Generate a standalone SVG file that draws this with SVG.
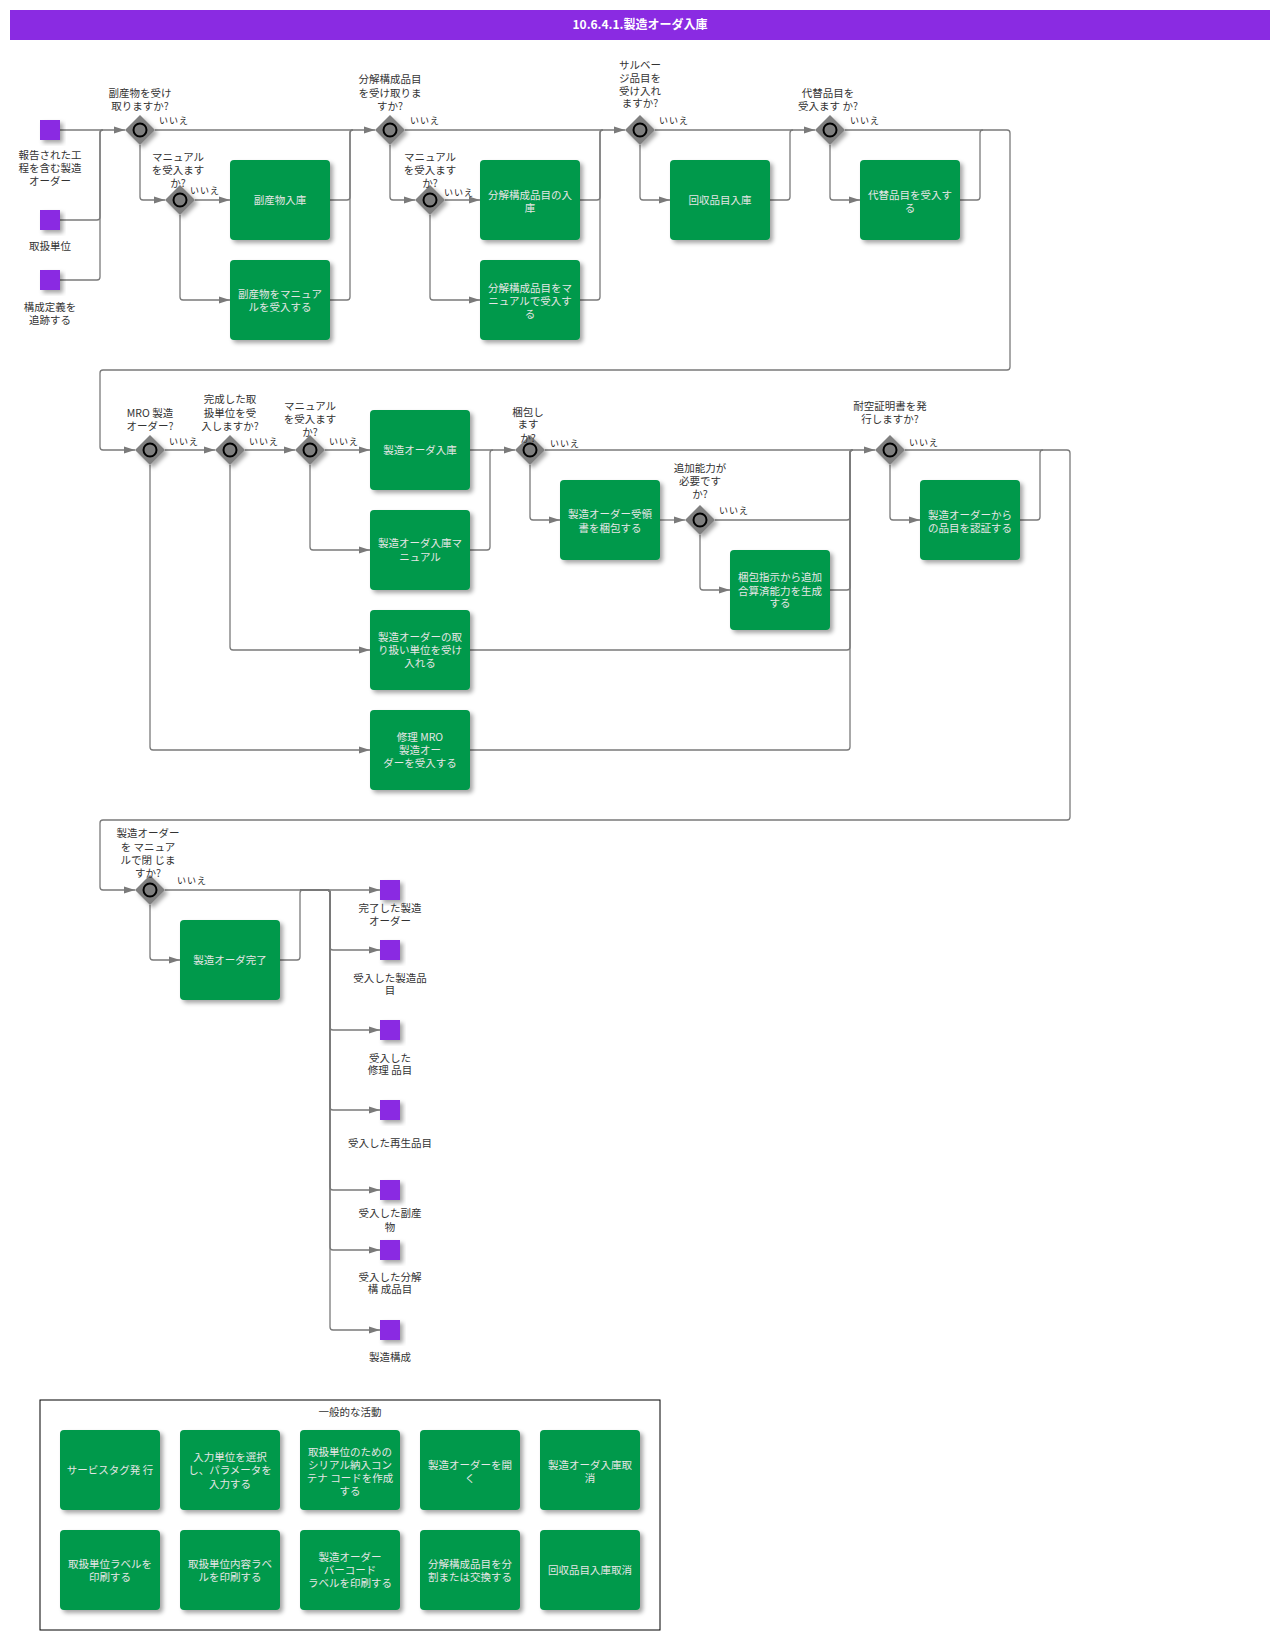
<svg xmlns="http://www.w3.org/2000/svg" width="1280" height="1640" viewBox="0 0 1280 1640">
<style>
text{font-family:"Noto Sans CJK JP","Noto Sans",sans-serif;text-anchor:middle}
.lbl{font-size:10.5px;fill:#333}
.tt{font-size:10.5px;fill:#e6e6e6}
.no{font-size:9px;fill:#222;letter-spacing:1px}
.task{fill:#00994c;filter:url(#sh)}
.gw{fill:#7f7f7f;filter:url(#sh)}
.gc{fill:#7f7f7f;stroke:#000;stroke-width:2}
.ev{fill:#8a2be2;filter:url(#sh)}
.c{fill:none;stroke:#7a7a7a;stroke-width:1.3}
.a{marker-end:url(#ar)}
.title{font-size:12px;font-weight:bold;fill:#fff}
</style>
<defs>
<filter id="sh" x="-20%" y="-20%" width="150%" height="150%"><feDropShadow dx="3" dy="3" stdDeviation="2" flood-color="#000" flood-opacity="0.35"/></filter>
<marker id="ar" markerUnits="userSpaceOnUse" markerWidth="12" markerHeight="8" refX="11" refY="4" orient="auto"><path d="M0,0.5 L11,4 L0,7.5 z" fill="#7a7a7a"/></marker>
</defs>
<rect width="1280" height="1640" fill="#fff"/>
<g id="title"><rect x="10" y="10" width="1260" height="30" fill="#8a2be2"/><text class="title" x="640" y="29">10.6.4.1.製造オーダ入庫</text></g>

<g id="connectors">
<path class="c a" d="M60,130 H125"/>
<path class="c" d="M60,220 H97 Q100,220 100,217 V133 Q100,130 103,130"/>
<path class="c" d="M60,280 H97 Q100,280 100,277 V133 Q100,130 103,130"/>
<path class="c a" d="M155,130 H375"/>
<path class="c a" d="M140,145 V197 Q140,200 143,200 H165"/>
<path class="c a" d="M195,200 H230"/>
<path class="c a" d="M180,215 V297 Q180,300 183,300 H230"/>
<path class="c" d="M330,200 H347 Q350,200 350,197 V133 Q350,130 353,130"/>
<path class="c" d="M330,300 H347 Q350,300 350,297 V133 Q350,130 353,130"/>
<path class="c a" d="M405,130 H625"/>
<path class="c a" d="M390,145 V197 Q390,200 393,200 H415"/>
<path class="c a" d="M445,200 H480"/>
<path class="c a" d="M430,215 V297 Q430,300 433,300 H480"/>
<path class="c" d="M580,200 H597 Q600,200 600,197 V133 Q600,130 603,130"/>
<path class="c" d="M580,300 H597 Q600,300 600,297 V133 Q600,130 603,130"/>
<path class="c a" d="M655,130 H815"/>
<path class="c a" d="M640,145 V197 Q640,200 643,200 H670"/>
<path class="c" d="M770,200 H787 Q790,200 790,197 V133 Q790,130 793,130"/>
<path class="c a" d="M845,130 H1007 Q1010,130 1010,133 V367 Q1010,370 1007,370 H103 Q100,370 100,373 V447 Q100,450 103,450 H135"/>
<path class="c a" d="M830,145 V197 Q830,200 833,200 H860"/>
<path class="c" d="M960,200 H977 Q980,200 980,197 V133 Q980,130 983,130"/>

<path class="c a" d="M165,450 H215"/>
<path class="c a" d="M150,465 V747 Q150,750 153,750 H370"/>
<path class="c a" d="M245,450 H295"/>
<path class="c a" d="M230,465 V647 Q230,650 233,650 H370"/>
<path class="c a" d="M325,450 H370"/>
<path class="c a" d="M310,465 V547 Q310,550 313,550 H370"/>
<path class="c a" d="M470,450 H515"/>
<path class="c" d="M470,550 H487 Q490,550 490,547 V453 Q490,450 493,450"/>
<path class="c a" d="M545,450 H875"/>
<path class="c a" d="M530,465 V517 Q530,520 533,520 H560"/>
<path class="c a" d="M660,520 H685"/>
<path class="c" d="M715,520 H847 Q850,520 850,517 V453 Q850,450 853,450"/>
<path class="c a" d="M700,535 V587 Q700,590 703,590 H730"/>
<path class="c" d="M830,590 H847 Q850,590 850,587 V453 Q850,450 853,450"/>
<path class="c" d="M470,650 H847 Q850,650 850,647 V453 Q850,450 853,450"/>
<path class="c" d="M470,750 H847 Q850,750 850,747 V453 Q850,450 853,450"/>
<path class="c a" d="M905,450 H1067 Q1070,450 1070,453 V817 Q1070,820 1067,820 H103 Q100,820 100,823 V887 Q100,890 103,890 H135"/>
<path class="c a" d="M890,465 V517 Q890,520 893,520 H920"/>
<path class="c" d="M1020,520 H1037 Q1040,520 1040,517 V453 Q1040,450 1043,450"/>

<path class="c a" d="M165,890 H380"/>
<path class="c a" d="M150,905 V957 Q150,960 153,960 H180"/>
<path class="c" d="M280,960 H297 Q300,960 300,957 V893 Q300,890 303,890"/>
<path class="c a" d="M300,890 H327 Q330,890 330,893 V947 Q330,950 333,950 H380"/>
<path class="c a" d="M300,890 H327 Q330,890 330,893 V1027 Q330,1030 333,1030 H380"/>
<path class="c a" d="M300,890 H327 Q330,890 330,893 V1107 Q330,1110 333,1110 H380"/>
<path class="c a" d="M300,890 H327 Q330,890 330,893 V1187 Q330,1190 333,1190 H380"/>
<path class="c a" d="M300,890 H327 Q330,890 330,893 V1247 Q330,1250 333,1250 H380"/>
<path class="c a" d="M300,890 H327 Q330,890 330,893 V1327 Q330,1330 333,1330 H380"/>
</g>

<g id="s1"><rect class="ev" x="40" y="120" width="20" height="20"/><text class="lbl"><tspan x="50" y="159">報告された工</tspan><tspan x="50" y="172">程を含む製造</tspan><tspan x="50" y="185">オーダー</tspan></text></g>
<g id="s2"><rect class="ev" x="40" y="210" width="20" height="20"/><text class="lbl" x="50" y="250">取扱単位</text></g>
<g id="s3"><rect class="ev" x="40" y="270" width="20" height="20"/><text class="lbl"><tspan x="50" y="311">構成定義を</tspan><tspan x="50" y="324">追跡する</tspan></text></g>

<g id="d1"><polygon class="gw" points="140,115 155,130 140,145 125,130"/><circle class="gc" cx="140" cy="130" r="6.5"/><text class="lbl"><tspan x="140" y="97">副産物を受け</tspan><tspan x="140" y="110">取りますか?</tspan></text><text class="no" x="174" y="124">いいえ</text></g>
<g id="d2"><polygon class="gw" points="180,185 195,200 180,215 165,200"/><circle class="gc" cx="180" cy="200" r="6.5"/><text class="lbl"><tspan x="178" y="161">マニュアル</tspan><tspan x="178" y="174">を受入ます</tspan><tspan x="178" y="187">か?</tspan></text><text class="no" x="205" y="194">いいえ</text></g>
<g id="t1"><rect class="task" x="230" y="160" width="100" height="80" rx="4"/><text class="tt" x="280" y="204">副産物入庫</text></g>
<g id="t2"><rect class="task" x="230" y="260" width="100" height="80" rx="4"/><text class="tt"><tspan x="280" y="298">副産物をマニュア</tspan><tspan x="280" y="311">ルを受入する</tspan></text></g>

<g id="d3"><polygon class="gw" points="390,115 405,130 390,145 375,130"/><circle class="gc" cx="390" cy="130" r="6.5"/><text class="lbl"><tspan x="390" y="83">分解構成品目</tspan><tspan x="390" y="97">を受け取りま</tspan><tspan x="390" y="110">すか?</tspan></text><text class="no" x="425" y="124">いいえ</text></g>
<g id="d4"><polygon class="gw" points="430,185 445,200 430,215 415,200"/><circle class="gc" cx="430" cy="200" r="6.5"/><text class="lbl"><tspan x="430" y="161">マニュアル</tspan><tspan x="430" y="174">を受入ます</tspan><tspan x="430" y="187">か?</tspan></text><text class="no" x="459" y="196">いいえ</text></g>
<g id="t3"><rect class="task" x="480" y="160" width="100" height="80" rx="4"/><text class="tt"><tspan x="530" y="199">分解構成品目の入</tspan><tspan x="530" y="212">庫</tspan></text></g>
<g id="t4"><rect class="task" x="480" y="260" width="100" height="80" rx="4"/><text class="tt"><tspan x="530" y="292">分解構成品目をマ</tspan><tspan x="530" y="305">ニュアルで受入す</tspan><tspan x="530" y="318">る</tspan></text></g>

<g id="d5"><polygon class="gw" points="640,115 655,130 640,145 625,130"/><circle class="gc" cx="640" cy="130" r="6.5"/><text class="lbl"><tspan x="640" y="69">サルベー</tspan><tspan x="640" y="82">ジ品目を</tspan><tspan x="640" y="95">受け入れ</tspan><tspan x="640" y="107">ますか?</tspan></text><text class="no" x="674" y="124">いいえ</text></g>
<g id="t5"><rect class="task" x="670" y="160" width="100" height="80" rx="4"/><text class="tt" x="720" y="204">回収品目入庫</text></g>

<g id="d6"><polygon class="gw" points="830,115 845,130 830,145 815,130"/><circle class="gc" cx="830" cy="130" r="6.5"/><text class="lbl"><tspan x="828" y="97">代替品目を</tspan><tspan x="828" y="110">受入ます か?</tspan></text><text class="no" x="865" y="124">いいえ</text></g>
<g id="t6"><rect class="task" x="860" y="160" width="100" height="80" rx="4"/><text class="tt"><tspan x="910" y="199">代替品目を受入す</tspan><tspan x="910" y="212">る</tspan></text></g>

<g id="d7"><polygon class="gw" points="150,435 165,450 150,465 135,450"/><circle class="gc" cx="150" cy="450" r="6.5"/><text class="lbl"><tspan x="150" y="417">MRO 製造</tspan><tspan x="150" y="430">オーダー?</tspan></text><text class="no" x="184" y="445">いいえ</text></g>
<g id="d8"><polygon class="gw" points="230,435 245,450 230,465 215,450"/><circle class="gc" cx="230" cy="450" r="6.5"/><text class="lbl"><tspan x="230" y="403">完成した取</tspan><tspan x="230" y="417">扱単位を受</tspan><tspan x="230" y="430">入しますか?</tspan></text><text class="no" x="264" y="445">いいえ</text></g>
<g id="d9"><polygon class="gw" points="310,435 325,450 310,465 295,450"/><circle class="gc" cx="310" cy="450" r="6.5"/><text class="lbl"><tspan x="310" y="410">マニュアル</tspan><tspan x="310" y="423">を受入ます</tspan><tspan x="310" y="436">か?</tspan></text><text class="no" x="344" y="445">いいえ</text></g>
<g id="t7"><rect class="task" x="370" y="410" width="100" height="80" rx="4"/><text class="tt" x="420" y="454">製造オーダ入庫</text></g>
<g id="t8"><rect class="task" x="370" y="510" width="100" height="80" rx="4"/><text class="tt"><tspan x="420" y="547">製造オーダ入庫マ</tspan><tspan x="420" y="561">ニュアル</tspan></text></g>
<g id="t9"><rect class="task" x="370" y="610" width="100" height="80" rx="4"/><text class="tt"><tspan x="420" y="641">製造オーダーの取</tspan><tspan x="420" y="654">り扱い単位を受け</tspan><tspan x="420" y="667">入れる</tspan></text></g>
<g id="t10"><rect class="task" x="370" y="710" width="100" height="80" rx="4"/><text class="tt"><tspan x="420" y="741">修理 MRO</tspan><tspan x="420" y="754">製造オー</tspan><tspan x="420" y="767">ダーを受入する</tspan></text></g>

<g id="d10"><polygon class="gw" points="530,435 545,450 530,465 515,450"/><circle class="gc" cx="530" cy="450" r="6.5"/><text class="lbl"><tspan x="528" y="416">梱包し</tspan><tspan x="528" y="428">ます</tspan><tspan x="528" y="442">か?</tspan></text><text class="no" x="565" y="447">いいえ</text></g>
<g id="t11"><rect class="task" x="560" y="480" width="100" height="80" rx="4"/><text class="tt"><tspan x="610" y="518">製造オーダー受領</tspan><tspan x="610" y="532">書を梱包する</tspan></text></g>
<g id="d11"><polygon class="gw" points="700,505 715,520 700,535 685,520"/><circle class="gc" cx="700" cy="520" r="6.5"/><text class="lbl"><tspan x="700" y="472">追加能力が</tspan><tspan x="700" y="485">必要です</tspan><tspan x="700" y="498">か?</tspan></text><text class="no" x="734" y="514">いいえ</text></g>
<g id="t12"><rect class="task" x="730" y="550" width="100" height="80" rx="4"/><text class="tt"><tspan x="780" y="581">梱包指示から追加</tspan><tspan x="780" y="595">合算済能力を生成</tspan><tspan x="780" y="607">する</tspan></text></g>
<g id="d12"><polygon class="gw" points="890,435 905,450 890,465 875,450"/><circle class="gc" cx="890" cy="450" r="6.5"/><text class="lbl"><tspan x="890" y="410">耐空証明書を発</tspan><tspan x="890" y="423">行しますか?</tspan></text><text class="no" x="924" y="446">いいえ</text></g>
<g id="t13"><rect class="task" x="920" y="480" width="100" height="80" rx="4"/><text class="tt"><tspan x="970" y="519">製造オーダーから</tspan><tspan x="970" y="532">の品目を認証する</tspan></text></g>

<g id="d13"><polygon class="gw" points="150,875 165,890 150,905 135,890"/><circle class="gc" cx="150" cy="890" r="6.5"/><text class="lbl"><tspan x="148" y="837">製造オーダー</tspan><tspan x="148" y="851">を マニュア</tspan><tspan x="148" y="864">ルで閉 じま</tspan><tspan x="148" y="877">すか?</tspan></text><text class="no" x="192" y="884">いいえ</text></g>
<g id="t14"><rect class="task" x="180" y="920" width="100" height="80" rx="4"/><text class="tt" x="230" y="964">製造オーダ完了</text></g>

<g id="e1"><rect class="ev" x="380" y="880" width="20" height="20"/><text class="lbl"><tspan x="390" y="912">完了した製造</tspan><tspan x="390" y="925">オーダー</tspan></text></g>
<g id="e2"><rect class="ev" x="380" y="940" width="20" height="20"/><text class="lbl"><tspan x="390" y="982">受入した製造品</tspan><tspan x="390" y="994">目</tspan></text></g>
<g id="e3"><rect class="ev" x="380" y="1020" width="20" height="20"/><text class="lbl"><tspan x="390" y="1062">受入した</tspan><tspan x="390" y="1074">修理 品目</tspan></text></g>
<g id="e4"><rect class="ev" x="380" y="1100" width="20" height="20"/><text class="lbl" x="390" y="1147">受入した再生品目</text></g>
<g id="e5"><rect class="ev" x="380" y="1180" width="20" height="20"/><text class="lbl"><tspan x="390" y="1217">受入した副産</tspan><tspan x="390" y="1231">物</tspan></text></g>
<g id="e6"><rect class="ev" x="380" y="1240" width="20" height="20"/><text class="lbl"><tspan x="390" y="1281">受入した分解</tspan><tspan x="390" y="1293">構 成品目</tspan></text></g>
<g id="e7"><rect class="ev" x="380" y="1320" width="20" height="20"/><text class="lbl" x="390" y="1361">製造構成</text></g>

<g id="general">
<rect x="40" y="1400" width="620" height="230" fill="none" stroke="#000" stroke-width="1"/>
<text class="lbl" x="350" y="1416">一般的な活動</text>
<g id="g1"><rect class="task" x="60" y="1430" width="100" height="80" rx="4"/><text class="tt" x="110" y="1474">サービスタグ発 行</text></g>
<g id="g2"><rect class="task" x="180" y="1430" width="100" height="80" rx="4"/><text class="tt"><tspan x="230" y="1461">入力単位を選択</tspan><tspan x="230" y="1474">し、パラメータを</tspan><tspan x="230" y="1488">入力する</tspan></text></g>
<g id="g3"><rect class="task" x="300" y="1430" width="100" height="80" rx="4"/><text class="tt"><tspan x="350" y="1456">取扱単位のための</tspan><tspan x="350" y="1469">シリアル納入コン</tspan><tspan x="350" y="1482">テナ コードを作成</tspan><tspan x="350" y="1495">する</tspan></text></g>
<g id="g4"><rect class="task" x="420" y="1430" width="100" height="80" rx="4"/><text class="tt"><tspan x="470" y="1469">製造オーダーを開</tspan><tspan x="470" y="1482">く</tspan></text></g>
<g id="g5"><rect class="task" x="540" y="1430" width="100" height="80" rx="4"/><text class="tt"><tspan x="590" y="1469">製造オーダ入庫取</tspan><tspan x="590" y="1482">消</tspan></text></g>
<g id="g6"><rect class="task" x="60" y="1530" width="100" height="80" rx="4"/><text class="tt"><tspan x="110" y="1568">取扱単位ラベルを</tspan><tspan x="110" y="1581">印刷する</tspan></text></g>
<g id="g7"><rect class="task" x="180" y="1530" width="100" height="80" rx="4"/><text class="tt"><tspan x="230" y="1568">取扱単位内容ラベ</tspan><tspan x="230" y="1581">ルを印刷する</tspan></text></g>
<g id="g8"><rect class="task" x="300" y="1530" width="100" height="80" rx="4"/><text class="tt"><tspan x="350" y="1561">製造オーダー</tspan><tspan x="350" y="1574">バーコード</tspan><tspan x="350" y="1587">ラベルを印刷する</tspan></text></g>
<g id="g9"><rect class="task" x="420" y="1530" width="100" height="80" rx="4"/><text class="tt"><tspan x="470" y="1568">分解構成品目を分</tspan><tspan x="470" y="1581">割または交換する</tspan></text></g>
<g id="g10"><rect class="task" x="540" y="1530" width="100" height="80" rx="4"/><text class="tt" x="590" y="1574">回収品目入庫取消</text></g>
</g>
</svg>
